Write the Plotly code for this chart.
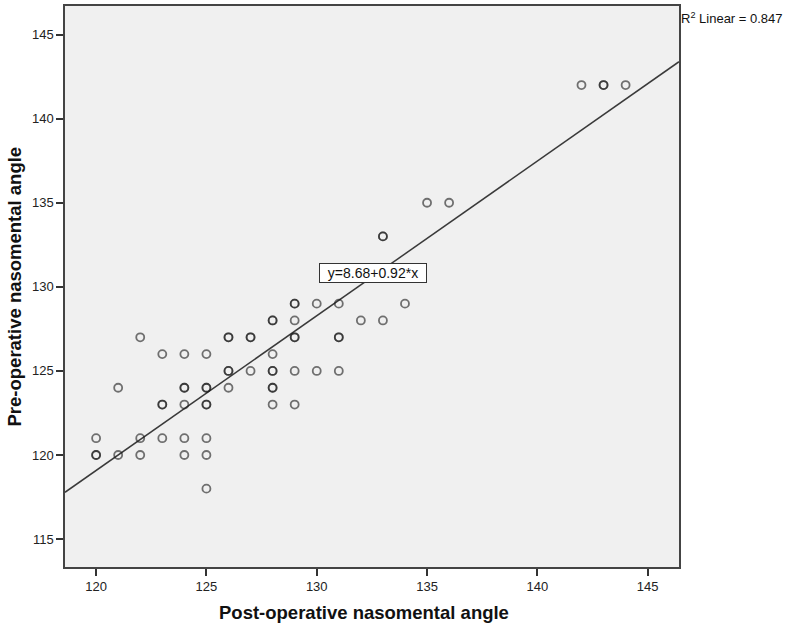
import plotly.graph_objects as go

# Data (duplicates = overlapping, darker circles)
post_angle = [120, 120, 120, 121, 121, 122, 122, 122,
              123, 123, 123, 123, 124, 124, 124, 124, 124, 124,
              125, 125, 125, 125, 125, 125, 125, 125,
              126, 126, 126, 126, 126, 127, 127, 127,
              128, 128, 128, 128, 128, 128, 128, 128,
              129, 129, 129, 129, 129, 129, 129,
              130, 130, 131, 131, 131, 131, 132, 133, 133, 133, 134,
              135, 136, 142, 143, 143, 144]
pre_angle = [121, 120, 120, 124, 120, 127, 121, 120,
             126, 123, 123, 121, 126, 124, 124, 123, 121, 120,
             126, 124, 124, 123, 123, 121, 120, 118,
             127, 127, 125, 125, 124, 127, 127, 125,
             128, 128, 126, 125, 125, 124, 124, 123,
             129, 129, 128, 127, 127, 125, 123,
             129, 125, 129, 127, 127, 125, 128, 133, 133, 128, 129,
             135, 135, 142, 142, 142, 142]

fit_intercept = 8.68
fit_slope = 0.92
r_squared = 0.847

x_range = [118.59, 146.42]
y_range = [113.34, 146.7]
x_ticks = [120, 125, 130, 135, 140, 145]
y_ticks = [115, 120, 125, 130, 135, 140, 145]

fit_x = x_range
fit_y = [fit_intercept + fit_slope * v for v in fit_x]

fig = go.Figure()
fig.add_trace(go.Scatter(
    x=fit_x, y=fit_y, mode="lines",
    line=dict(color="#3a3a3a", width=1.5),
    hoverinfo="skip", showlegend=False,
))
fig.add_trace(go.Scatter(
    x=post_angle, y=pre_angle, mode="markers",
    marker=dict(symbol="circle-open", size=8,
                color="rgba(25,25,25,0.6)",
                line=dict(width=1.8, color="rgba(25,25,25,0.6)")),
    showlegend=False,
))

axis_font = dict(family="Liberation Sans, Arial, sans-serif", size=13, color="#222")
fig.update_layout(
    width=792, height=630,
    margin=dict(l=65, r=113, t=4, b=63),
    paper_bgcolor="white",
    plot_bgcolor="#f0f0f0",
    xaxis=dict(range=x_range, tickvals=x_ticks, ticks="outside", ticklen=7,
               tickwidth=1.5, tickcolor="#333", showgrid=False, zeroline=False,
               showline=True, linecolor="#444", linewidth=1.5, mirror=True,
               tickfont=axis_font),
    yaxis=dict(range=y_range, tickvals=y_ticks, ticks="outside", ticklen=7,
               tickwidth=1.5, tickcolor="#333", showgrid=False, zeroline=False,
               showline=True, linecolor="#444", linewidth=1.5, mirror=True,
               tickfont=axis_font),
    annotations=[
        dict(text="<b>Post-operative nasomental angle</b>", xref="paper", yref="paper",
             x=0.487, y=0, xanchor="center", yanchor="middle", yshift=-45,
             showarrow=False,
             font=dict(family="Liberation Sans, Arial, sans-serif", size=18.5, color="#111")),
        dict(text="<b>Pre-operative nasomental angle</b>", xref="paper", yref="paper",
             x=0, y=0.5, xanchor="center", yanchor="middle", xshift=-51,
             textangle=-90, showarrow=False,
             font=dict(family="Liberation Sans, Arial, sans-serif", size=18.5, color="#111")),
        dict(text="R<sup>2</sup> Linear = " + f"{r_squared:.3f}", xref="paper", yref="paper",
             x=1, y=1, xanchor="left", yanchor="middle", xshift=0, yshift=-12,
             showarrow=False,
             font=dict(family="Liberation Sans, Arial, sans-serif", size=13, color="#111")),
        dict(text=f"y={fit_intercept:.2f}+{fit_slope:.2f}*x", xref="x", yref="y",
             x=132.55, y=130.8, xanchor="center", yanchor="middle",
             showarrow=False, bgcolor="white", bordercolor="#333", borderwidth=1,
             borderpad=1, width=104, height=16,
             font=dict(family="Liberation Sans, Arial, sans-serif", size=14, color="#111")),
    ],
)

fig.write_html("out.html", config={"displayModeBar": False},
               post_script="document.body.style.margin='0px';document.body.style.padding='0px';")
